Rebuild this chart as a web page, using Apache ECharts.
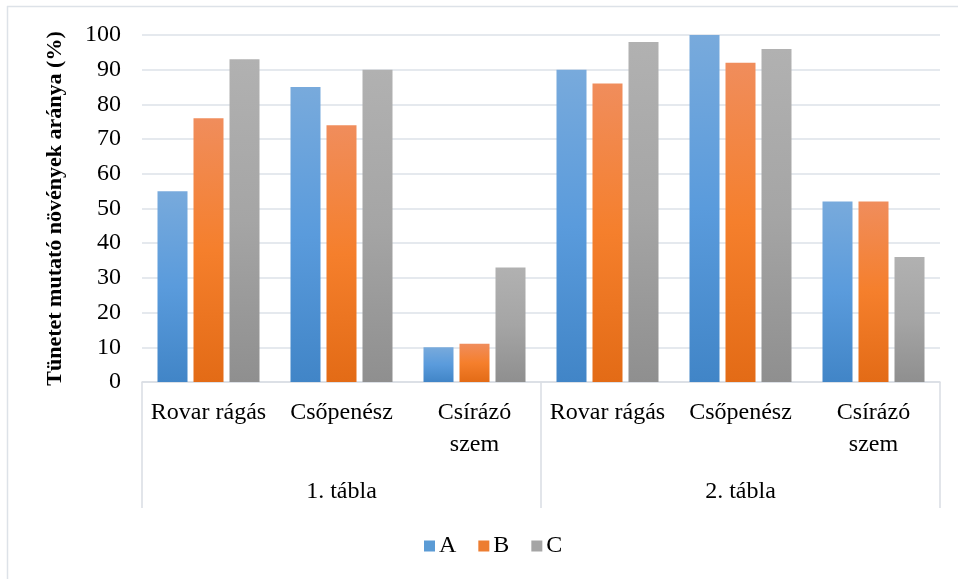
<!DOCTYPE html>
<html>
<head>
<meta charset="utf-8">
<script src="https://cdn.jsdelivr.net/npm/echarts@6/dist/echarts.min.js"></script>
<style>
html,body{margin:0;padding:0;background:#fff;}
#chart{width:958px;height:579px;}
</style>
</head>
<body>
<div id="chart"></div>
<script>
var categories = ['Rovar rágás', 'Csőpenész', 'Csírázó\nszem', 'Rovar rágás', 'Csőpenész', 'Csírázó\nszem'];
var groups = ['1. tábla', '2. tábla'];
var seriesNames = ['A', 'B', 'C'];
var valuesA = [55, 85, 10, 90, 100, 52];
var valuesB = [76, 74, 11, 86, 92, 52];
var valuesC = [93, 90, 33, 98, 96, 36];
var yTicks = [0, 10, 20, 30, 40, 50, 60, 70, 80, 90, 100];
var yTitle = 'Tünetet mutató növények aránya (%)';

var FONT = '"Liberation Serif", "Times New Roman", serif';

function grad(c0, c1, c2) {
  return new echarts.graphic.LinearGradient(0, 0, 0, 1, [
    {offset: 0, color: c0}, {offset: 0.5, color: c1}, {offset: 1, color: c2}
  ]);
}
var fills = [
  grad('#78aadc', '#5a9bdc', '#4185c7'),
  grad('#f08d5c', '#f57f2c', '#e36b16'),
  grad('#b1b1b1', '#a5a5a5', '#8f8f8f')
];
var legendColors = ['#5b9bd5', '#ed7d31', '#a5a5a5'];
var data = [valuesA, valuesB, valuesC];

var chart = echarts.init(document.getElementById('chart'), null, {renderer: 'canvas'});
chart.setOption({
  animation: false,
  backgroundColor: '#fff',
  textStyle: {fontFamily: FONT},
  grid: {left: 142, right: 18, top: 35, bottom: 197},
  legend: {
    data: seriesNames.map(function (n, i) {
      return {name: n, itemStyle: {color: legendColors[i]}};
    }),
    left: 419, top: 529,
    icon: 'rect', itemWidth: 11, itemHeight: 11, itemGap: 22,
    textStyle: {fontFamily: FONT, fontSize: 24, color: '#000', padding: [0, 0, 0, -1]}
  },
  xAxis: [{
    type: 'category',
    data: categories,
    axisLine: {show: true, lineStyle: {color: '#d9dde3', width: 1.5}},
    axisTick: {show: false},
    axisLabel: {fontFamily: FONT, fontSize: 24, color: '#000', margin: 15, lineHeight: 32, interval: 0}
  }, {
    type: 'category',
    data: groups,
    position: 'bottom',
    axisLine: {show: false},
    axisTick: {show: true, length: 126, lineStyle: {color: '#d9dde3', width: 1.5}},
    axisLabel: {fontFamily: FONT, fontSize: 24, color: '#000', margin: 98, interval: 0}
  }],
  yAxis: {
    type: 'value',
    min: yTicks[0], max: yTicks[yTicks.length - 1], interval: 10,
    name: yTitle,
    nameLocation: 'middle',
    nameGap: 76,
    nameTextStyle: {fontFamily: FONT, fontSize: 22, fontWeight: 'bold', color: '#000'},
    axisLine: {show: false},
    axisTick: {show: false},
    axisLabel: {fontFamily: FONT, fontSize: 24, color: '#000', margin: 21},
    splitLine: {lineStyle: {color: '#dde2e8', width: 1.5}}
  },
  series: seriesNames.map(function (n, i) {
    return {
      name: n, type: 'bar', xAxisIndex: 0,
      data: data[i],
      barWidth: 30, barGap: '20%',
      itemStyle: {color: fills[i]}
    };
  }),
  graphic: [
    {type: 'line', shape: {x1: 7, y1: 6.5, x2: 958, y2: 6.5}, style: {stroke: '#dde2e8', lineWidth: 1.5}, silent: true},
    {type: 'line', shape: {x1: 7.5, y1: 6, x2: 7.5, y2: 579}, style: {stroke: '#dde2e8', lineWidth: 1.5}, silent: true}
  ]
});
</script>
</body>
</html>
